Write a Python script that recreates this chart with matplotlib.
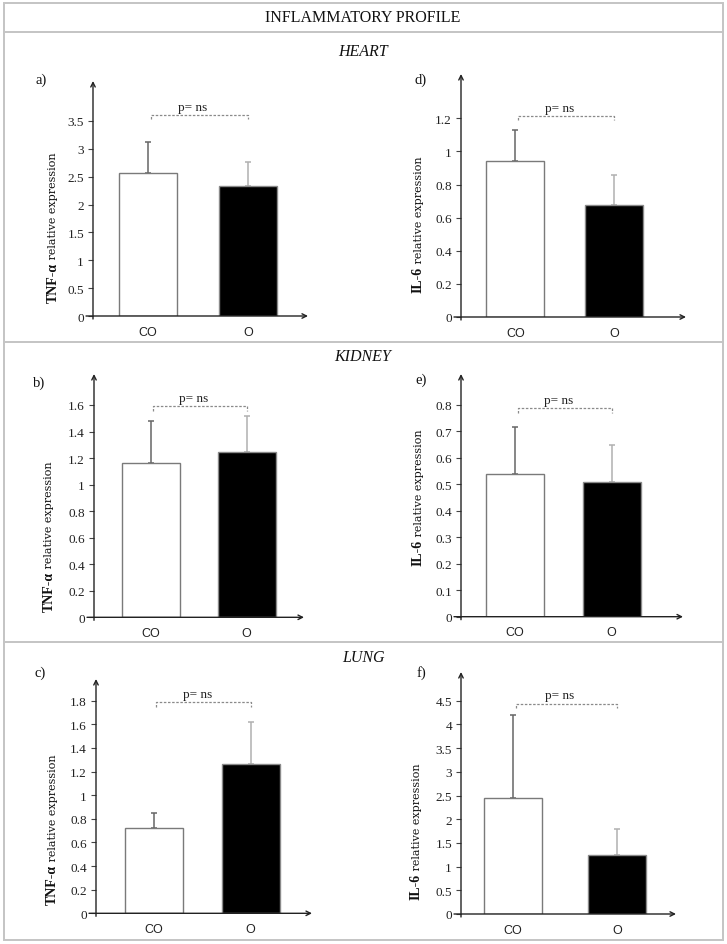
import matplotlib
matplotlib.use("Agg")
import matplotlib.pyplot as plt
from matplotlib.patches import Rectangle
from matplotlib.lines import Line2D

W, H = 727, 945

# ---------------- data ----------------
title = "INFLAMMATORY PROFILE"
organs = ["HEART", "KIDNEY", "LUNG"]
groups = ["CO", "O"]
markers = ["TNF-\u03b1", "IL-6"]
panel_letters = [["a)", "d)"], ["b)", "e)"], ["c)", "f)"]]
p_text = "p= ns"

tnf_mean = [[2.57, 2.34], [1.165, 1.245], [0.72, 1.265]]
tnf_err = [[0.55, 0.43], [0.317, 0.275], [0.127, 0.356]]
il6_mean = [[0.94, 0.676], [0.538, 0.508], [2.44, 1.245]]
il6_err = [[0.19, 0.184], [0.178, 0.141], [1.76, 0.545]]

tnf_ticks = [[0, 0.5, 1, 1.5, 2, 2.5, 3, 3.5],
             [0, 0.2, 0.4, 0.6, 0.8, 1, 1.2, 1.4, 1.6],
             [0, 0.2, 0.4, 0.6, 0.8, 1, 1.2, 1.4, 1.6, 1.8]]
il6_ticks = [[0, 0.2, 0.4, 0.6, 0.8, 1, 1.2],
             [0, 0.1, 0.2, 0.3, 0.4, 0.5, 0.6, 0.7, 0.8],
             [0, 0.5, 1, 1.5, 2, 2.5, 3, 3.5, 4, 4.5]]
tnf_bracket = [3.61, 1.59, 1.786]
il6_bracket = [1.216, 0.787, 4.44]

# ---------------- layout (pixels) ----------------
layout = [
    [dict(L=93, R=308, z=317, tt=122, ar=82, c0=147.5, c1=248, lab=(53, 228), let=(41, 80)),
     dict(L=461, R=686, z=318, tt=119.3, ar=75, c0=515.5, c1=614, lab=(418, 225), let=(421, 80))],
    [dict(L=94, R=304, z=618.3, tt=406, ar=375, c0=150.5, c1=246.5, lab=(49, 537), let=(39, 383)),
     dict(L=461, R=683, z=617.7, tt=406, ar=375, c0=515, c1=611.5, lab=(418, 498), let=(421, 380))],
    [dict(L=96, R=312, z=914.3, tt=701.7, ar=680, c0=153.5, c1=250.5, lab=(52, 830), let=(40, 673)),
     dict(L=461, R=676, z=915, tt=701.7, ar=673, c0=513, c1=617, lab=(416, 832), let=(421, 673))],
]

SERIF = "Liberation Serif"
SERIF_W = "DejaVu Serif"
SANS = "Liberation Sans"
AX = "#222222"
BORDER = "#c4c4c4"

fig = plt.figure(figsize=(W / 100, H / 100), dpi=100)


def fx(x):
    return x / W


def fy(y):
    return 1 - y / H


# frame
fig.add_artist(Rectangle((fx(4), fy(941)), (723 - 4) / W, (941 - 4) / H, transform=fig.transFigure,
                         fill=False, edgecolor=BORDER, lw=1.4))
for yy in [33, 343, 643]:
    fig.add_artist(Line2D([fx(4), fx(723)], [fy(yy), fy(yy)], transform=fig.transFigure, color=BORDER, lw=1.4))

fig.text(fx(363), fy(18), title, ha="center", va="center", fontfamily=SERIF, fontsize=11.5, color="#111")
for name, yy in zip(organs, [52, 357, 658]):
    fig.text(fx(363), fy(yy), name, ha="center", va="center", fontfamily=SERIF, fontsize=11.5,
             style="italic", color="#111")

fig.canvas.draw()
renderer = fig.canvas.get_renderer()

for r in range(3):
    for c in range(2):
        lay = layout[r][c]
        means = tnf_mean[r] if c == 0 else il6_mean[r]
        errs = tnf_err[r] if c == 0 else il6_err[r]
        ticks = tnf_ticks[r] if c == 0 else il6_ticks[r]
        brk = tnf_bracket[r] if c == 0 else il6_bracket[r]
        marker = markers[c]

        L, R, z, tt, ar = lay["L"], lay["R"], lay["z"], lay["tt"], lay["ar"]
        ax = fig.add_axes([fx(L), fy(z), (R - L) / W, (z - ar) / H])
        ymax = ticks[-1] * (z - ar) / (z - tt)
        ax.set_ylim(0, ymax)
        sp = lay["c1"] - lay["c0"]
        ax.set_xlim((L - lay["c0"]) / sp, (R - lay["c0"]) / sp)
        ax.patch.set_visible(False)
        for s in ax.spines.values():
            s.set_visible(False)

        xs = list(range(len(groups)))
        bw = 58 / sp
        ax.bar(xs, means, width=bw, color=["white", "black"], edgecolor=["#7a7a7a", "#8a8a8a"],
               linewidth=1.0, zorder=3)
        for x, m, e, col in zip(xs, means, errs, ["#666666", "#b0b0b0"]):
            ax.errorbar([x], [m], yerr=[[0], [e]], fmt="none", ecolor=col, elinewidth=1.1,
                        capsize=2, capthick=1.1, zorder=2)

        ax.set_yticks(ticks)
        ax.set_yticklabels(["{:g}".format(t) for t in ticks], fontfamily=SERIF, fontsize=9.5, color="#222")
        ax.tick_params(axis="y", direction="out", length=3.5, width=0.8, color="#444", pad=3)
        ax.set_xticks(xs)
        ax.set_xticklabels(groups, fontfamily=SANS, fontsize=9, color="#222")
        ax.tick_params(axis="x", length=0, pad=7)

        # axes with arrows (figure pixels)
        ax.annotate("", xy=(L, H - ar), xytext=(L, H - z - 3), xycoords="figure pixels",
                    textcoords="figure pixels",
                    arrowprops=dict(arrowstyle="->", lw=1.0, color=AX, shrinkA=0, shrinkB=0,
                                    mutation_scale=8))
        ax.annotate("", xy=(R, H - z), xytext=(L - 7, H - z), xycoords="figure pixels",
                    textcoords="figure pixels",
                    arrowprops=dict(arrowstyle="->", lw=1.0, color=AX, shrinkA=0, shrinkB=0,
                                    mutation_scale=8))

        # significance bracket
        d = ymax * 0.018
        ax.plot([0.03, 0.03, 1.0, 1.0], [brk - d, brk, brk, brk - d], color="#8a8a8a", lw=0.9,
                linestyle=(0, (2, 1.3)), clip_on=False, zorder=4)
        ax.annotate(p_text, xy=(0.45, brk), xytext=(0, 1.5), textcoords="offset points",
                    ha="center", va="bottom", fontfamily=SERIF, fontsize=9.5, color="#222")

        # panel letter
        fig.text(fx(lay["let"][0]), fy(lay["let"][1]), panel_letters[r][c], ha="center", va="center",
                 fontfamily=SERIF, fontsize=10.5, color="#111")

        # y label: bold marker + regular text, rotated
        lx, ly = lay["lab"]
        tb = fig.text(0, 0, marker, rotation=90, fontfamily=SERIF, fontweight="bold", fontsize=10)
        tr = fig.text(0, 0, " relative expression", rotation=90, fontfamily=SERIF_W, fontsize=8)
        hb = tb.get_window_extent(renderer).height
        hr = tr.get_window_extent(renderer).height
        bottom = ly + (hb + hr) / 2
        split = bottom - hb
        tb.set_position((fx(lx), fy(split)))
        tb.set_ha("center")
        tb.set_va("top")
        tr.set_position((fx(lx + 0.5), fy(split)))
        tr.set_ha("center")
        tr.set_va("bottom")
        tb.set_color("#111")
        tr.set_color("#111")

fig.savefig("out.png", dpi=100)
